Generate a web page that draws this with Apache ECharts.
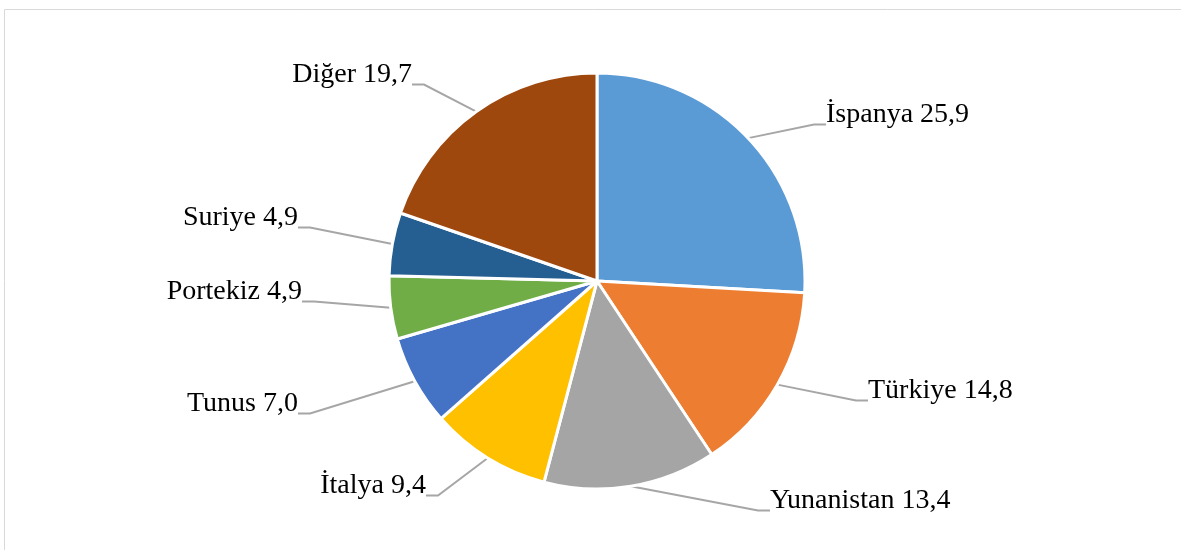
<!DOCTYPE html>
<html>
<head>
<meta charset="utf-8">
<script src="https://cdn.jsdelivr.net/npm/echarts@6/dist/echarts.min.js"></script>
<style>
html,body{margin:0;padding:0;background:#fff;}
#chart{width:1181px;height:550px;}
</style>
</head>
<body>
<div id="chart"></div>
<script>
const categories = ['İspanya', 'Türkiye', 'Yunanistan', 'İtalya', 'Tunus', 'Portekiz', 'Suriye', 'Diğer'];
const values = [25.9, 14.8, 13.4, 9.4, 7.0, 4.9, 4.9, 19.7];
const colors = ['#5B9BD5', '#ED7D31', '#A5A5A5', '#FFC000', '#4472C4', '#70AD47', '#255E91', '#9E480E'];
// label text anchor positions (x, text-center y, align)
const labelPos = [
  [822, 115, 'left'],
  [864, 391, 'left'],
  [766, 501, 'left'],
  [430, 486, 'right'],
  [302, 404, 'right'],
  [306, 292, 'right'],
  [302, 218, 'right'],
  [416, 75, 'right']
];

const chart = echarts.init(document.getElementById('chart'));
chart.setOption({
  animation: false,
  graphic: [{
    type: 'rect',
    shape: {x: 4.5, y: 9.5, width: 1200, height: 600},
    style: {fill: 'none', stroke: '#D9D9D9', lineWidth: 1}
  }],
  series: [{
    type: 'pie',
    center: [597, 281],
    radius: [0, 208],
    startAngle: 90,
    clockwise: true,
    data: categories.map((c, i) => ({name: c, value: values[i], itemStyle: {color: colors[i]}})),
    itemStyle: {borderColor: '#fff', borderWidth: 3},
    label: {
      show: true,
      formatter: p => '{a|' + p.name + ' ' + values[p.dataIndex].toFixed(1).replace('.', ',') + '}\n{b|}',
      padding: [0, 4, 0, 4],
      rich: {
        a: {
          fontFamily: '"Liberation Serif", "Times New Roman", serif',
          fontSize: 28,
          lineHeight: 34,
          color: '#000'
        },
        b: {fontSize: 10, lineHeight: 16, height: 16}
      }
    },
    labelLine: {
      show: true,
      length: 20,
      length2: 12,
      lineStyle: {color: '#A6A6A6', width: 2}
    },
    labelLayout: function (params) {
      const p = labelPos[params.dataIndex];
      return {x: p[0], y: p[1] + 8, align: p[2], verticalAlign: 'middle'};
    }
  }]
});
</script>
</body>
</html>
